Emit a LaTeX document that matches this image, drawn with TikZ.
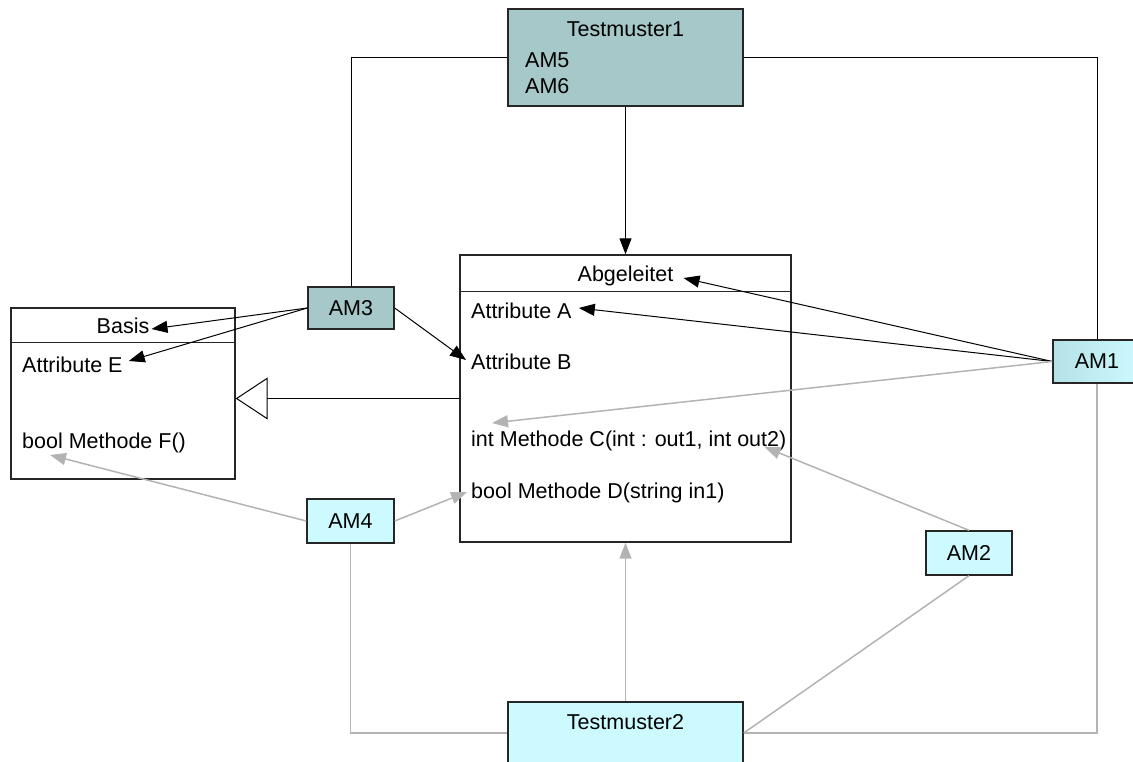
\documentclass[tikz,border=0pt]{standalone}
\usepackage{fontspec}
\setmainfont{Liberation Sans}
\usetikzlibrary{arrows.meta,calc}
\definecolor{tealbox}{HTML}{A6C8C9}
\definecolor{cyanbox}{HTML}{CCFAFF}
\definecolor{cyanleft}{HTML}{B4E2E6}
\definecolor{linkgray}{HTML}{B3B3B3}
\definecolor{frame}{HTML}{262626}

\begin{document}
\begin{tikzpicture}[x=1pt,y=-1pt,
  font=\fontsize{21.5}{26}\selectfont,
  box/.style={draw=frame, line width=1.4pt, rectangle, inner sep=0pt},
  classbox/.style={box, fill=white},
  pattern1/.style={box, fill=tealbox},
  pattern2/.style={box, fill=cyanbox},
  txt/.style={inner sep=0pt, anchor=base west},
  ctxt/.style={inner sep=0pt, anchor=base},
  blackarrow/.style={draw=black, line width=1pt, -{Triangle[length=16pt,width=12pt]}},
  blackline/.style={draw=black, line width=1pt},
  grayarrow/.style={draw=linkgray, line width=1.5pt, -{Triangle[length=16pt,width=12pt]}},
  grayline/.style={draw=linkgray, line width=1.5pt},
  inherit/.style={draw=black, line width=1pt, -{Triangle[open,length=32pt,width=42pt]}}
]
\useasboundingbox (0,0) rectangle (1133,762);
\clip (0,0) rectangle (1133,762);

% classes
\node[classbox, minimum width=331pt, minimum height=287pt] (abg) at (625.5,398.5) {};
\draw[draw=frame, line width=1.4pt] ($(abg.north west)+(0,37)$) -- ($(abg.north east)+(0,37)$);
\node[ctxt] (abgT) at (625.5,282) {Abgeleitet};
\node[txt] (attrA) at (471,319) {Attribute A};
\node[txt] (attrB) at (471,369) {Attribute B};
\node[txt] (methC) at (471,446) {int Methode C(int : out1, int out2)};
\node[txt] (methD) at (471,498) {bool Methode D(string in1)};

\node[classbox, minimum width=224pt, minimum height=171pt] (basis) at (123,393.5) {};
\draw[draw=frame, line width=1.4pt] ($(basis.north west)+(0,35)$) -- ($(basis.north east)+(0,35)$);
\node[ctxt] (basisT) at (123,334) {Basis};
\node[txt] (attrE) at (22,372) {Attribute E};
\node[txt] (methF) at (22,448) {bool Methode F()};

% test patterns
\node[pattern1, minimum width=235pt, minimum height=97pt] (t1) at (625.5,57.5) {};
\node[ctxt] (t1T) at (625.5,37) {Testmuster1};
\node[txt] (am5) at (525,68) {AM5};
\node[txt] (am6) at (525,94) {AM6};

\node[pattern2, minimum width=235pt, minimum height=62pt] (t2) at (625.5,733) {};
\node[ctxt] (t2T) at (625.5,729) {Testmuster2};

% attribute markers
\node[pattern1, minimum width=86pt, minimum height=42pt] (am3) at (351,308) {AM3};
\node[box, left color=cyanleft, right color=cyanbox, minimum width=88pt, minimum height=43pt] (am1) at (1097,361.5) {AM1};
\node[pattern2, minimum width=87pt, minimum height=44pt] (am4) at (350.5,521) {AM4};
\node[pattern2, minimum width=86pt, minimum height=44pt] (am2) at (969,553) {AM2};

% inheritance
\draw[inherit] (abg.west) -- (basis.east |- abg.west);

% Testmuster1 links
\draw[blackarrow] (t1.south) -- (abg.north);
\draw[blackline] (t1.west) -| (am3.north);
\draw[blackline] (t1.east) -| (am1.north);

% AM3 links
\draw[blackarrow] (am3.west) -- ($(basisT.base east)+(2,-5)$);
\draw[blackarrow] (am3.west) -- ($(attrE.base east)+(6,-11)$);
\draw[blackarrow] (am3.east) -- ($(attrB.base west)+(-5,-9)$);

% AM1 links
\draw[blackarrow] (am1.west) -- ($(abgT.base east)+(10,-4)$);
\draw[blackarrow] (am1.west) -- ($(attrA.base east)+(7,-11)$);
\draw[grayarrow] (am1.west) -- ($(methC.base west)+(21,-23)$);

% AM2 links
\draw[grayarrow] (am2.north) -- ($(methC.base east)+(-22,1)$);
\draw[grayline] (am2.south) -- (t2.east);

% AM4 links
\draw[grayarrow] (am4.east) -- ($(methD.base west)+(-4,-6)$);
\draw[grayarrow] (am4.west) -- ($(methF.base west)+(28,7)$);

% Testmuster2 links
\draw[grayarrow] (t2.north) -- (abg.south);
\draw[grayline] (t2.west) -| (am4.south);
\draw[grayline] (t2.east) -| (am1.south);
\end{tikzpicture}
\end{document}
